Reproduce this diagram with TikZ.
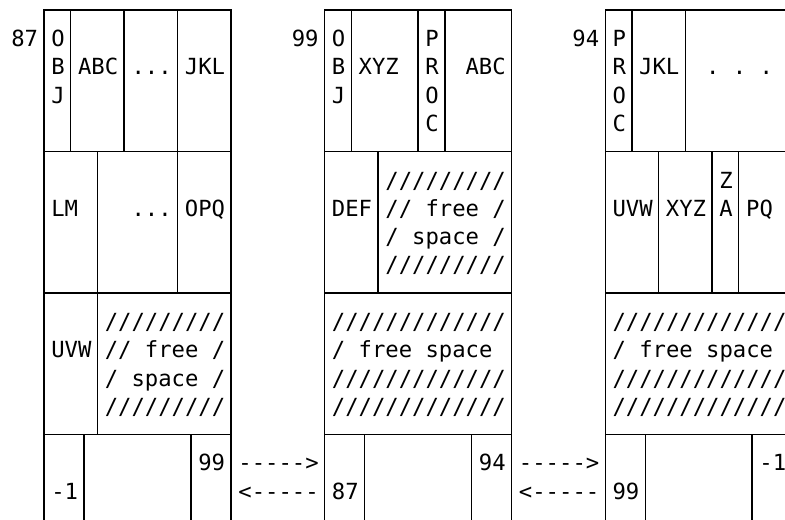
\documentclass[tikz,border=0pt]{standalone}
\usepackage{fontspec}
\setmonofont{DejaVu Sans Mono}
\tikzset{
  txt/.style={anchor=base west,inner sep=0pt,font=\ttfamily\fontsize{16.65}{21}\selectfont},
}
\begin{document}
\begin{tikzpicture}[x=10.01pt,y=-21.2pt,line width=1pt]
\useasboundingbox (-0.293,-0.354) rectangle (58.46,18.0);
% outline, row lines and link cells of the three pages
\foreach \s in {0,21,42} {
  \draw[shift={(\s,0)}] (3,18.4) -- (3,0) -- (17,0) -- (17,18.4);
  \draw[shift={(\s,0)}] (3,5) -- (17,5) (3,10) -- (17,10) (3,15) -- (17,15);
  \draw[shift={(\s,0)}] (6,15) -- (6,18.4) (14,15) -- (14,18.4);
}
% page 87
\draw (5,0) -- (5,5) (9,0) -- (9,5) (13,0) -- (13,5);
\draw (7,5) -- (7,15) (13,5) -- (13,10);
\node[txt] (pgA) at (0.5,1.29) {87};
\foreach \ch [count=\i] in {O,B,J}
  \node[txt] (objA\i) at (3.5,\i+0.29) {\ch};
\node[txt] (abcA) at (5.5,2.29) {ABC};
\node[txt] (dotA) at (9.5,2.29) {...};
\node[txt] (jklA) at (13.5,2.29) {JKL};
\node[txt] (lmA) at (3.5,7.29) {LM};
\node[txt] (dotB) at (9.5,7.29) {...};
\node[txt] (opqA) at (13.5,7.29) {OPQ};
\node[txt] (uvwA) at (3.5,12.29) {UVW};
\foreach \ln [count=\i from 11] in {/////////,// free /,/ space /,/////////}
  \node[txt] (freeA\i) at (7.5,\i+0.29) {\ln};
\node[txt] (prevA) at (3.5,17.29) {-1};
\node[txt] (nextA) at (14.5,16.29) {99};
\node[txt] (fwdA) at (17.5,16.29) {----->};
\node[txt] (bckA) at (17.5,17.29) {<-----};
% page 99
\draw (26,0) -- (26,5) (31,0) -- (31,5) (33,0) -- (33,5);
\draw (28,5) -- (28,10);
\node[txt] (pgB) at (21.5,1.29) {99};
\foreach \ch [count=\i] in {O,B,J}
  \node[txt] (objB\i) at (24.5,\i+0.29) {\ch};
\node[txt] (xyzB) at (26.5,2.29) {XYZ};
\foreach \ch [count=\i] in {P,R,O,C}
  \node[txt] (procB\i) at (31.5,\i+0.29) {\ch};
\node[txt] (abcB) at (34.5,2.29) {ABC};
\node[txt] (defB) at (24.5,7.29) {DEF};
\foreach \ln [count=\i from 6] in {/////////,// free /,/ space /,/////////}
  \node[txt] (freeB\i) at (28.5,\i+0.29) {\ln};
\foreach \ln [count=\i from 11] in {/////////////,/ free space,/////////////,/////////////}
  \node[txt] (freeC\i) at (24.5,\i+0.29) {\ln};
\node[txt] (prevB) at (24.5,17.29) {87};
\node[txt] (nextB) at (35.5,16.29) {94};
\node[txt] (fwdB) at (38.5,16.29) {----->};
\node[txt] (bckB) at (38.5,17.29) {<-----};
% page 94
\draw (47,0) -- (47,5) (51,0) -- (51,5);
\draw (49,5) -- (49,10) (53,5) -- (53,10) (55,5) -- (55,10);
\node[txt] (pgC) at (42.5,1.29) {94};
\foreach \ch [count=\i] in {P,R,O,C}
  \node[txt] (procC\i) at (45.5,\i+0.29) {\ch};
\node[txt] (jklC) at (47.5,2.29) {JKL};
\node[txt] (dotC) at (52.5,2.29) {. . .};
\node[txt] (uvwC) at (45.5,7.29) {UVW};
\node[txt] (xyzC) at (49.5,7.29) {XYZ};
\node[txt] (zC) at (53.5,6.29) {Z};
\node[txt] (aC) at (53.5,7.29) {A};
\node[txt] (pqC) at (55.5,7.29) {PQ};
\foreach \ln [count=\i from 11] in {/////////////,/ free space,/////////////,/////////////}
  \node[txt] (freeD\i) at (45.5,\i+0.29) {\ln};
\node[txt] (prevC) at (45.5,17.29) {99};
\node[txt] (nextC) at (56.5,16.29) {-1};
\end{tikzpicture}
\end{document}
